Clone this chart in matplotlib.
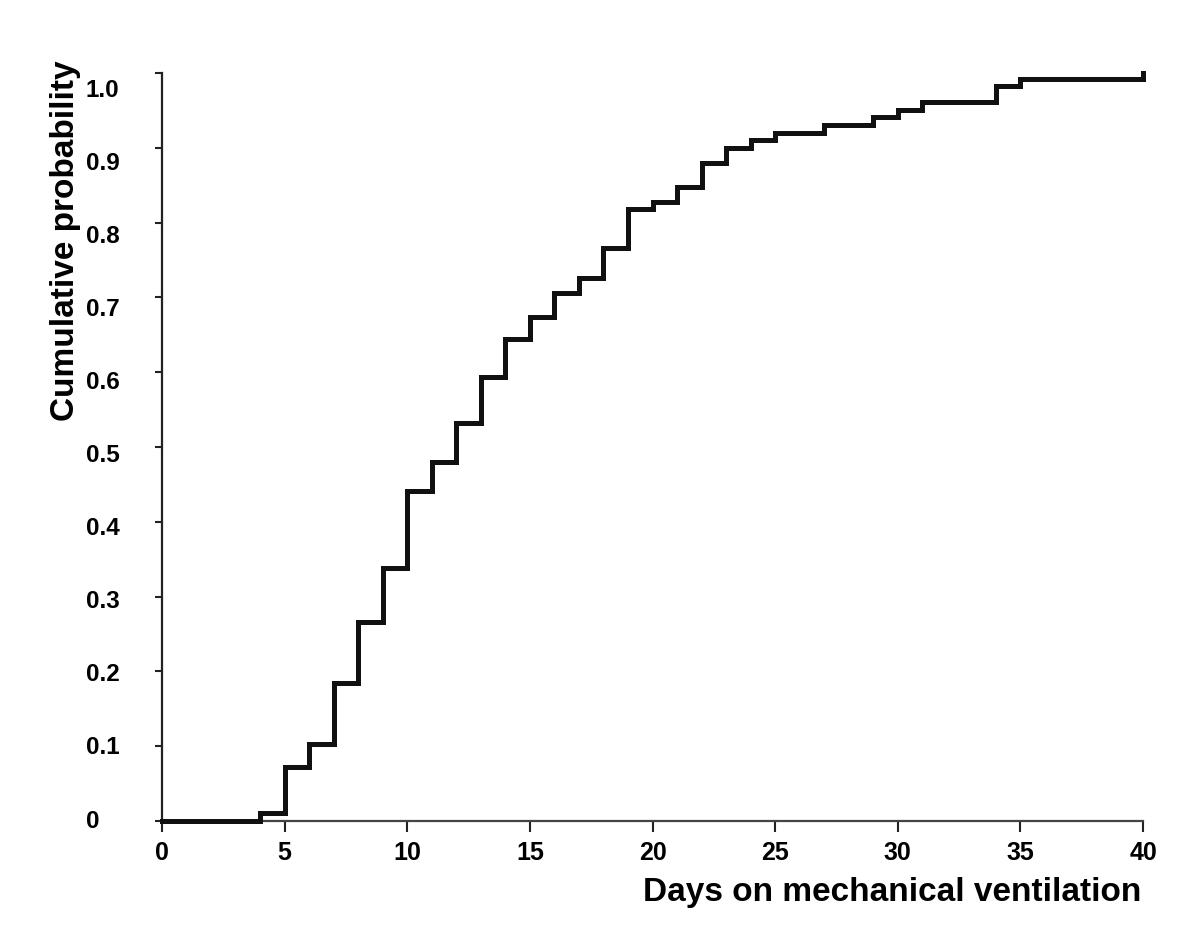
import matplotlib
matplotlib.use('Agg')
import matplotlib.pyplot as plt
import matplotlib.transforms as mtransforms

plt.rcParams['font.family'] = ['Liberation Sans', 'DejaVu Sans']
plt.rcParams['font.weight'] = 'bold'

# cumulative probability of weaning
days = [0, 4, 5, 6, 7, 8, 9, 10, 11, 12, 13, 14, 15, 16, 17, 18, 19, 20,
        21, 22, 23, 24, 25, 27, 29, 30, 31, 34, 35, 40]
prob = [0, 0.011, 0.072, 0.103, 0.184, 0.266, 0.338, 0.441, 0.480, 0.532,
        0.594, 0.644, 0.674, 0.706, 0.726, 0.766, 0.818, 0.828, 0.848, 0.880,
        0.900, 0.910, 0.920, 0.930, 0.941, 0.951, 0.961, 0.982, 0.992, 1.0]

xticks = [0, 5, 10, 15, 20, 25, 30, 35, 40]
yticks = [0, 0.1, 0.2, 0.3, 0.4, 0.5, 0.6, 0.7, 0.8, 0.9, 1.0]
ytick_labels = ['0', '0.1', '0.2', '0.3', '0.4', '0.5', '0.6', '0.7', '0.8', '0.9', '1.0']

fig = plt.figure(figsize=(12, 9.39), dpi=100)
ax = fig.add_axes([0.135, 0.1256, 0.8175, 0.7967])

ax.step(days, prob, where='post', color='#111111', lw=3.6, clip_on=False,
        solid_joinstyle='miter', zorder=3)

ax.set_xlim(0, 40)
ax.set_ylim(0, 1.0)
ax.spines['top'].set_visible(False)
ax.spines['right'].set_visible(False)
ax.spines['left'].set_linewidth(1.6)
ax.spines['bottom'].set_linewidth(1.6)
ax.spines['left'].set_color('#222222')
ax.spines['bottom'].set_color('#444444')

ax.set_xticks(xticks)
ax.set_xticklabels([str(t) for t in xticks])
ax.tick_params(axis='x', direction='out', length=8, width=1.5, pad=6,
               labelsize=18, colors='#222222', labelcolor='black')
ax.set_yticks(yticks)
ax.tick_params(axis='y', direction='out', length=5, width=1.5,
               labelleft=False, colors='#222222')
for lab in ax.get_xticklabels():
    lab.set_fontweight('bold')

# y labels sit a little below their ticks in the original
trans = mtransforms.blended_transform_factory(ax.transAxes, ax.transData)
for v, s in zip(yticks, ytick_labels):
    ax.text(-0.0775, v * 0.977, s, transform=trans, ha='left', va='center',
            fontsize=17.5, fontweight='bold')

fig.text(66 / 1200, 1 - 241 / 939, 'Cumulative probability', rotation=90,
         ha='center', va='center', fontsize=24, fontweight='bold')
fig.text(1141 / 1200, 1 - 893 / 939, 'Days on mechanical ventilation',
         ha='right', va='center', fontsize=24, fontweight='bold')

fig.savefig('out.png', dpi=100)
